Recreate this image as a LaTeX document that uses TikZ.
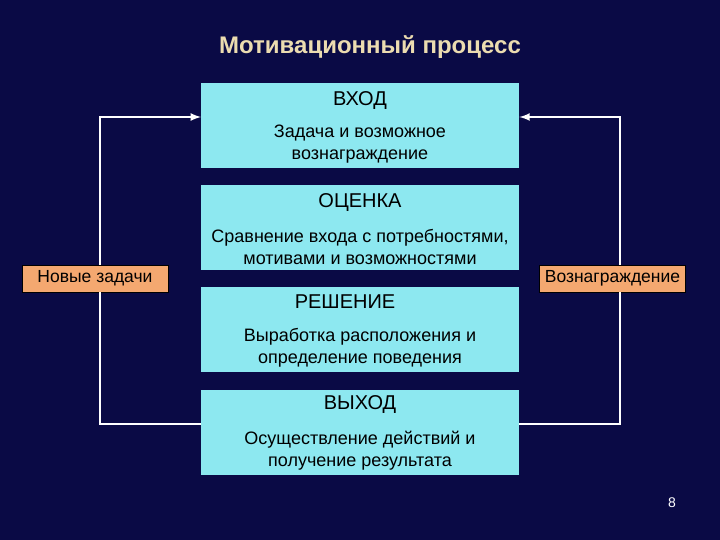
\documentclass[tikz,border=0pt]{standalone}
\usepackage{fontspec}
\setmainfont{Liberation Sans}
\definecolor{bg}{HTML}{0A0A45}
\definecolor{cy}{HTML}{8DE8F0}
\definecolor{og}{HTML}{F4A870}
\definecolor{ti}{HTML}{ECDCB0}
\begin{document}
\begin{tikzpicture}[x=1pt,y=-1pt,
  stage/.style={fill=cy,draw=none,minimum width=318pt,minimum height=85pt,anchor=north west,inner sep=0pt},
  lab/.style={fill=og,draw=black,line width=0.5pt,minimum width=146pt,minimum height=27pt,inner sep=0pt,font=\fontsize{17.5}{20}\selectfont},
  conn/.style={draw=white,line width=2.5pt},
  hd/.style={font=\fontsize{20}{22}\selectfont,text=black},
  txt/.style={font=\fontsize{18}{22}\selectfont,align=center,text=black}]
\fill[bg] (0,0) rectangle (720,540);
\useasboundingbox (0,0) rectangle (720,540);
\node[font=\bfseries\fontsize{24}{26}\selectfont,text=ti] (title) at (370,47) {Мотивационный процесс};
\node[stage] (b1) at (201,83) {};
\node[stage] (b2) at (201,185) {};
\node[stage] (b3) at (201,287) {};
\node[stage] (b4) at (201,390) {};
\node[hd] (h1) at (360,101) {ВХОД};
\node[txt] (t1) at (360,144) {Задача и возможное\\вознаграждение};
\node[hd] (h2) at (360,203) {ОЦЕНКА};
\node[txt] (t2) at (360,247) {Сравнение входа с потребностями,\\мотивами и возможностями};
\node[hd] (h3) at (345,302) {РЕШЕНИЕ};
\node[txt] (t3) at (360,348) {Выработка расположения и\\определение поведения};
\node[hd] (h4) at (360,405) {ВЫХОД};
\node[txt] (t4) at (360,451) {Осуществление действий и\\получение результата};
\node[lab] (nl) at (95,278.5) {Новые задачи};
\node[lab] (nr) at (612.5,278.5) {Вознаграждение};
\coordinate (lt) at (100,117);
\coordinate (lb) at (100,424);
\coordinate (rt) at (620,117);
\coordinate (rb) at (620,424);
\draw[conn,-latex] (nl.north -| lt) -- (lt) -- (b1.west |- lt);
\draw[conn] (b4.west |- lb) -- (lb) -- (nl.south -| lb);
\draw[conn,-latex] (nr.north -| rt) -- (rt) -- (b1.east |- rt);
\draw[conn] (b4.east |- rb) -- (rb) -- (nr.south -| rb);
\node[text=white,font=\fontsize{14}{16}\selectfont] (pg) at (672,503) {8};
\end{tikzpicture}
\end{document}
